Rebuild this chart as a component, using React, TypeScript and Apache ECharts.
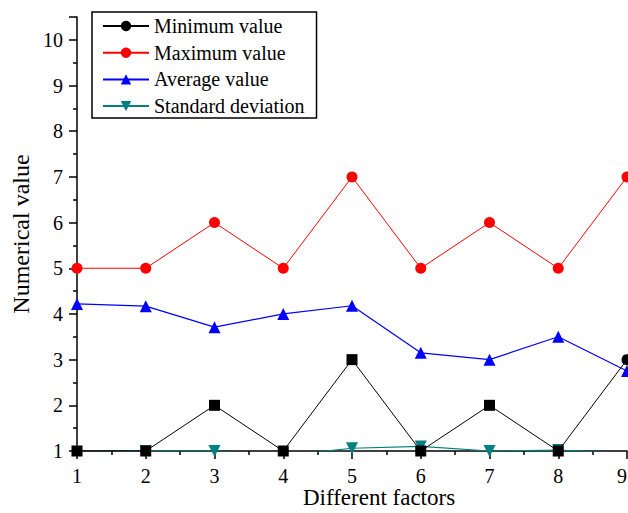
import React, { useEffect, useRef } from "react";
import * as echarts from "echarts";

const factors = [1, 2, 3, 4, 5, 6, 7, 8, 9];
const minValues = [1, 1, 2, 1, 3, 1, 2, 1, 3];
const minSymbols = ["rect", "rect", "rect", "rect", "rect", "rect", "rect", "rect", "circle"];
const maxValues = [5, 5, 6, 5, 7, 5, 6, 5, 7];
const avgValues = [4.22, 4.17, 3.71, 4.0, 4.18, 3.15, 3.0, 3.5, 2.75];
const stdValues = [0.95, 1.0, 1.0, 0.9, 1.06, 1.1, 1.0, 1.02, 0.95];
const seriesNames = ["Minimum value", "Maximum value", "Average value", "Standard deviation"];

const FONT = "Liberation Serif";

export default function App() {
  const ref = useRef<HTMLDivElement>(null);
  useEffect(() => {
    const chart = echarts.init(ref.current!, null, { renderer: "svg" });
    const pair = (vals: number[]) => factors.map((f, i) => [f, vals[i]]);
    const axisCommon = {
      axisLine: { show: true, lineStyle: { color: "#000", width: 1.5 } },
      axisTick: { show: true, inside: false, length: 8, lineStyle: { color: "#000", width: 1.5 } },
      minorTick: { show: true, splitNumber: 2, length: 4, lineStyle: { color: "#000", width: 1.5 } },
      splitLine: { show: false },
      axisLabel: { color: "#000", fontFamily: FONT, fontSize: 20 },
      nameTextStyle: { color: "#000", fontFamily: FONT, fontSize: 23 },
      nameMoveOverlap: false,
    };
    chart.setOption({
      animation: false,
      backgroundColor: "#fff",
      grid: { left: 77, right: 1, top: 17, bottom: 62, containLabel: false, outerBoundsMode: "none" },
      legend: {
        orient: "vertical",
        left: 92,
        top: 12,
        padding: [3, 12, 1, 10],
        itemGap: 4.7,
        itemWidth: 46,
        itemHeight: 13,
        borderColor: "#000",
        borderWidth: 1.5,
        textStyle: { color: "#000", fontFamily: FONT, fontSize: 20, lineHeight: 22 },
        data: seriesNames,
      },
      xAxis: {
        type: "value",
        min: 1,
        max: 9,
        interval: 1,
        name: "Different factors",
        nameLocation: "middle",
        nameGap: 35,
        ...axisCommon,
        nameTextStyle: { ...axisCommon.nameTextStyle, lineHeight: 23, padding: [0, 0, 0, 54] },
        axisLabel: { ...axisCommon.axisLabel, margin: 15, alignMaxLabel: "right" },
      },
      yAxis: {
        type: "value",
        min: 1,
        max: 10.5,
        interval: 1,
        name: "Numerical value",
        nameLocation: "middle",
        nameGap: 44,
        ...axisCommon,
        nameTextStyle: { ...axisCommon.nameTextStyle, fontSize: 24 },
        axisLabel: {
          ...axisCommon.axisLabel,
          margin: 14,
          formatter: (v: number) => (Number.isInteger(v) ? String(v) : ""),
        },
      },
      series: [
        {
          name: seriesNames[0],
          type: "line",
          data: factors.map((f, i) => ({ value: [f, minValues[i]], symbol: minSymbols[i] })),
          symbol: "circle",
          symbolSize: 11,
          color: "#000000",
          lineStyle: { width: 1, color: "#000000" },
          z: 4,
        },
        {
          name: seriesNames[1],
          type: "line",
          data: pair(maxValues),
          symbol: "circle",
          symbolSize: 11,
          color: "#ff0000",
          lineStyle: { width: 1, color: "#ff0000" },
        },
        {
          name: seriesNames[2],
          type: "line",
          data: pair(avgValues),
          symbol: "triangle",
          symbolSize: 12,
          color: "#0000ff",
          lineStyle: { width: 1.2, color: "#0000ff" },
        },
        {
          name: seriesNames[3],
          type: "line",
          data: pair(stdValues),
          symbol: "triangle",
          symbolRotate: 180,
          symbolSize: 12,
          color: "#008080",
          lineStyle: { width: 1.2, color: "#008080" },
          clip: true,
        },
      ],
    });
    return () => chart.dispose();
  }, []);
  return <div ref={ref} style={{ width: 628, height: 513, position: "absolute", left: 0, top: 0 }} />;
}
